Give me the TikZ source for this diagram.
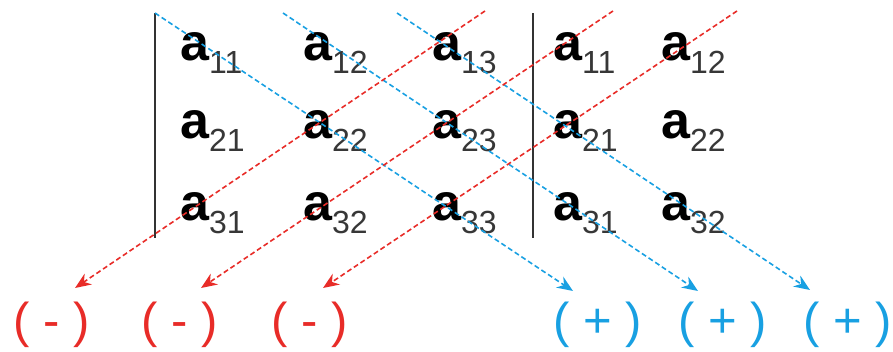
\documentclass[tikz,border=0pt]{standalone}
\usepackage{fontspec}
\setmainfont{Liberation Sans}
\usetikzlibrary{arrows.meta}
\definecolor{minusred}{RGB}{232,44,40}
\definecolor{plusblue}{RGB}{24,160,226}
\definecolor{subgray}{RGB}{55,55,55}
\newcommand{\elem}[1]{{\fontsize{52}{52}\selectfont\bfseries a}\raisebox{-13pt}{\fontsize{32}{32}\selectfont\color{subgray}#1}}
\tikzset{
  entry/.style={anchor=base west, inner sep=0pt},
  sign/.style={inner sep=0pt, font=\fontsize{49}{49}\selectfont},
  bar/.style={line width=2pt, draw=black!80},
  diag/.style={->, line width=1.6pt, dash pattern=on 5pt off 3pt},
}
\begin{document}
\begin{tikzpicture}[x=1pt, y=-1pt, line join=round, >={Stealth[length=16pt, width=13pt]}]
\useasboundingbox (0,0) rectangle (893,351);
\draw[bar] (155,13) -- (155,238);
\draw[bar] (533,13) -- (533,238);
\node[entry] (a11) at (180,60) {\elem{11}};
\node[entry] (a12) at (303,60) {\elem{12}};
\node[entry] (a13) at (432,60) {\elem{13}};
\node[entry] (c11) at (553,60) {\elem{11}};
\node[entry] (c12) at (661,60) {\elem{12}};
\node[entry] (a21) at (180,138) {\elem{21}};
\node[entry] (a22) at (303,138) {\elem{22}};
\node[entry] (a23) at (432,138) {\elem{23}};
\node[entry] (c21) at (553,138) {\elem{21}};
\node[entry] (c22) at (661,138) {\elem{22}};
\node[entry] (a31) at (180,220) {\elem{31}};
\node[entry] (a32) at (303,220) {\elem{32}};
\node[entry] (a33) at (432,220) {\elem{33}};
\node[entry] (c31) at (553,220) {\elem{31}};
\node[entry] (c32) at (661,220) {\elem{32}};
\node[sign, text=minusred] (m1) at (52,325) {( - )};
\node[sign, text=minusred] (m2) at (180,325) {( - )};
\node[sign, text=minusred] (m3) at (310,325) {( - )};
\node[sign, text=plusblue] (p1) at (598,325) {( + )};
\node[sign, text=plusblue] (p2) at (723,325) {( + )};
\node[sign, text=plusblue] (p3) at (848,325) {( + )};
\coordinate (b1) at (155,13);
\coordinate (b2) at (283,13);
\coordinate (b3) at (397,13);
\coordinate (r1) at (485,11);
\coordinate (r2) at (613,11);
\coordinate (r3) at (737,11);
\coordinate (pe1) at (573,291);
\coordinate (pe2) at (698,291);
\coordinate (pe3) at (810,290);
\coordinate (me1) at (75,288);
\coordinate (me2) at (201,288);
\coordinate (me3) at (323,288);
\draw[diag, plusblue] (b1) -- (pe1);
\draw[diag, plusblue] (b2) -- (pe2);
\draw[diag, plusblue] (b3) -- (pe3);
\draw[diag, minusred] (r1) -- (me1);
\draw[diag, minusred] (r2) -- (me2);
\draw[diag, minusred] (r3) -- (me3);
\end{tikzpicture}
\end{document}
